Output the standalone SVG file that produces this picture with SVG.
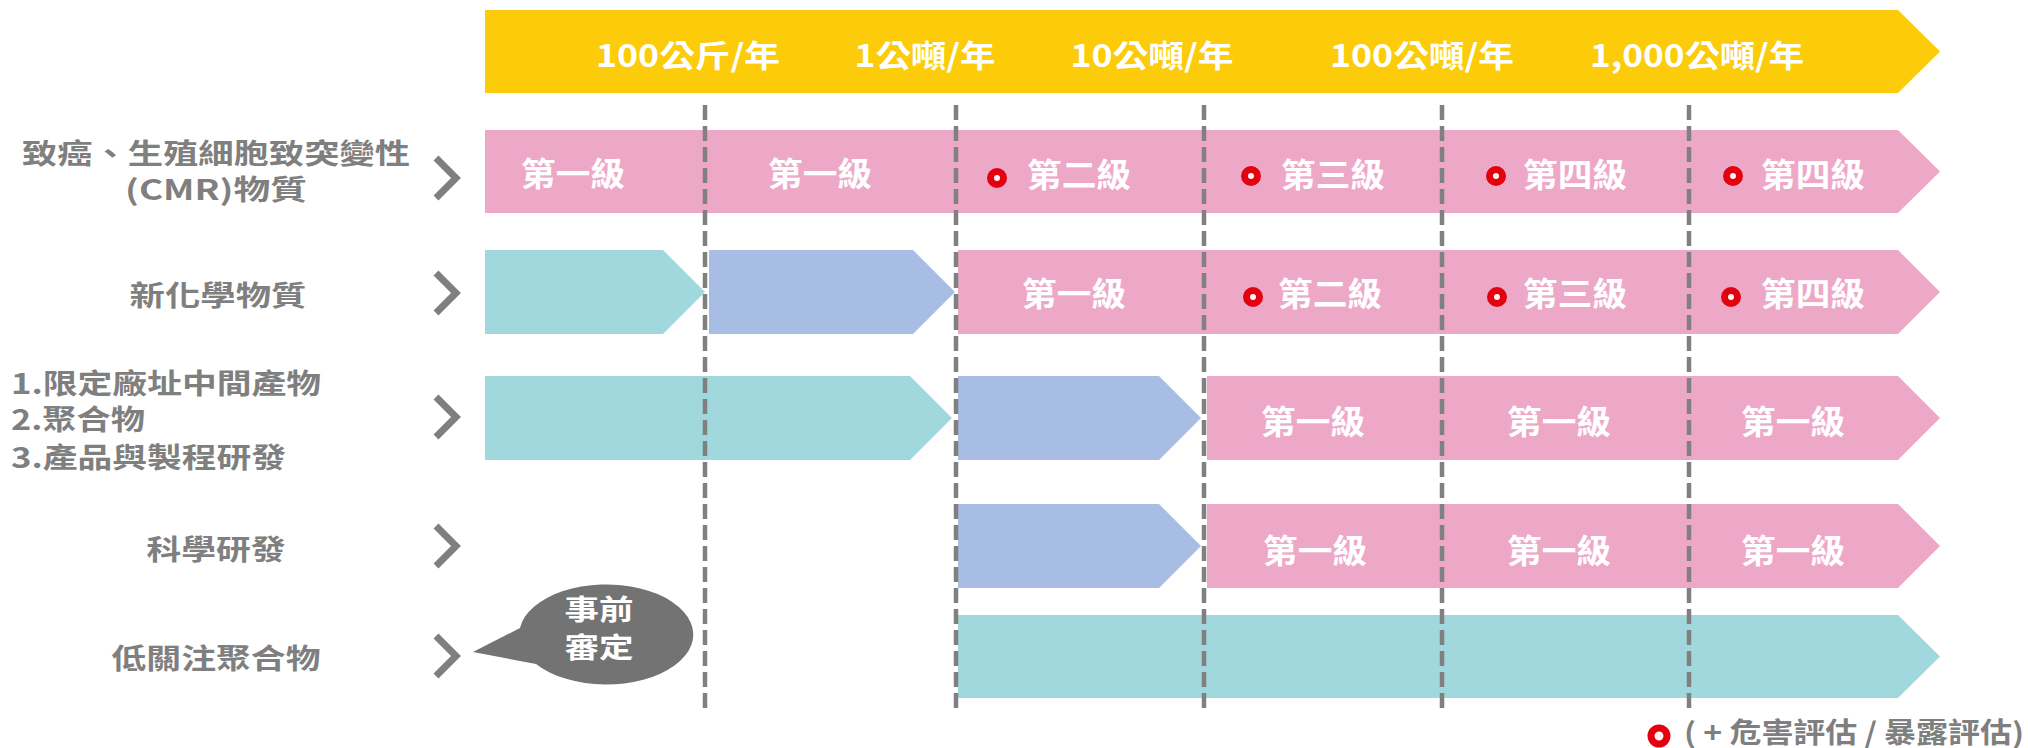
<svg xmlns="http://www.w3.org/2000/svg" width="2028" height="748" viewBox="0 0 2028 748">
<style>
text{font-family:"Noto Sans CJK TC","Noto Sans CJK SC",sans-serif;font-weight:bold;}
.hdr{fill:#ffffff;font-size:31px;text-anchor:middle;dominant-baseline:central;}
.lvl{fill:#ffffff;font-size:33px;dominant-baseline:central;}
.lvlc{fill:#ffffff;font-size:33px;text-anchor:middle;dominant-baseline:central;}
.lab{fill:#7f7f7f;font-size:28px;dominant-baseline:central;}
.labc{fill:#7f7f7f;font-size:28px;text-anchor:middle;dominant-baseline:central;}
.yel{fill:#fccc0a;}
.pink{fill:#eea8c7;}
.teal{fill:#a0d8dd;}
.blue{fill:#a8bde3;}
.grid{stroke:#808080;stroke-width:4.5;stroke-dasharray:15 6;fill:none;}
.chev{stroke:#7f7f7f;stroke-width:7;fill:none;stroke-linejoin:miter;}
.mark{fill:#fff2f2;stroke:#e3000f;stroke-width:7;}
</style>

<g id="header">
  <polygon class="yel" points="485,10 1898,10 1940,51.5 1898,93 485,93"/>
  <text class="hdr" x="688" y="53" textLength="184" lengthAdjust="spacingAndGlyphs">100公斤/年</text>
  <text class="hdr" x="925" y="53" textLength="141" lengthAdjust="spacingAndGlyphs">1公噸/年</text>
  <text class="hdr" x="1152" y="53" textLength="163" lengthAdjust="spacingAndGlyphs">10公噸/年</text>
  <text class="hdr" x="1422" y="53" textLength="184" lengthAdjust="spacingAndGlyphs">100公噸/年</text>
  <text class="hdr" x="1697" y="53" textLength="214" lengthAdjust="spacingAndGlyphs">1,000公噸/年</text>
</g>

<g id="row-cmr">
  <text class="labc" x="216" y="152" textLength="388" lengthAdjust="spacingAndGlyphs">致癌、生殖細胞致突變性</text>
  <text class="labc" x="216" y="188" textLength="182" lengthAdjust="spacingAndGlyphs">(CMR)物質</text>
  <polyline class="chev" points="436,158 456,178 436,198"/>
  <polygon class="pink" points="485,130 1898,130 1940,171.5 1898,213 485,213"/>
  <text class="lvlc" x="573" y="172" textLength="104" lengthAdjust="spacingAndGlyphs">第一級</text>
  <text class="lvlc" x="820" y="172" textLength="104" lengthAdjust="spacingAndGlyphs">第一級</text>
  <circle class="mark" cx="997" cy="178" r="6.5"/>
  <text class="lvl" x="1027" y="173" textLength="104" lengthAdjust="spacingAndGlyphs">第二級</text>
  <circle class="mark" cx="1251" cy="176" r="6.5"/>
  <text class="lvl" x="1281" y="173" textLength="104" lengthAdjust="spacingAndGlyphs">第三級</text>
  <circle class="mark" cx="1496" cy="176" r="6.5"/>
  <text class="lvl" x="1523" y="173" textLength="104" lengthAdjust="spacingAndGlyphs">第四級</text>
  <circle class="mark" cx="1733" cy="176" r="6.5"/>
  <text class="lvl" x="1761" y="173" textLength="104" lengthAdjust="spacingAndGlyphs">第四級</text>
</g>

<g id="row-new">
  <text class="labc" x="218" y="294" textLength="177" lengthAdjust="spacingAndGlyphs">新化學物質</text>
  <polyline class="chev" points="436,273 456,293 436,313"/>
  <polygon class="teal" points="485,250 663,250 705,292 663,334 485,334"/>
  <polygon class="blue" points="709,250 913,250 955,292 913,334 709,334"/>
  <polygon class="pink" points="958,250 1898,250 1940,292 1898,334 958,334"/>
  <text class="lvlc" x="1074" y="292" textLength="104" lengthAdjust="spacingAndGlyphs">第一級</text>
  <circle class="mark" cx="1253" cy="297" r="6.5"/>
  <text class="lvl" x="1278" y="292" textLength="104" lengthAdjust="spacingAndGlyphs">第二級</text>
  <circle class="mark" cx="1497" cy="297" r="6.5"/>
  <text class="lvl" x="1523" y="292" textLength="104" lengthAdjust="spacingAndGlyphs">第三級</text>
  <circle class="mark" cx="1731" cy="297" r="6.5"/>
  <text class="lvl" x="1761" y="292" textLength="104" lengthAdjust="spacingAndGlyphs">第四級</text>
</g>

<g id="row-exempt">
  <text class="lab" x="11" y="382" textLength="310" lengthAdjust="spacingAndGlyphs">1.限定廠址中間產物</text>
  <text class="lab" x="11" y="418" textLength="134" lengthAdjust="spacingAndGlyphs">2.聚合物</text>
  <text class="lab" x="11" y="456" textLength="275" lengthAdjust="spacingAndGlyphs">3.產品與製程研發</text>
  <polyline class="chev" points="436,397 456,417 436,437"/>
  <polygon class="teal" points="485,376 910,376 952,418 910,460 485,460"/>
  <polygon class="blue" points="958,376 1159,376 1201,418 1159,460 958,460"/>
  <polygon class="pink" points="1207,376 1898,376 1940,418 1898,460 1207,460"/>
  <text class="lvlc" x="1313" y="420" textLength="104" lengthAdjust="spacingAndGlyphs">第一級</text>
  <text class="lvlc" x="1559" y="420" textLength="104" lengthAdjust="spacingAndGlyphs">第一級</text>
  <text class="lvlc" x="1793" y="420" textLength="104" lengthAdjust="spacingAndGlyphs">第一級</text>
</g>

<g id="row-research">
  <text class="labc" x="216" y="548" textLength="139" lengthAdjust="spacingAndGlyphs">科學研發</text>
  <polyline class="chev" points="436,526 456,546 436,566"/>
  <polygon class="blue" points="958,504 1159,504 1201,546 1159,588 958,588"/>
  <polygon class="pink" points="1207,504 1898,504 1940,546 1898,588 1207,588"/>
  <text class="lvlc" x="1315" y="549" textLength="104" lengthAdjust="spacingAndGlyphs">第一級</text>
  <text class="lvlc" x="1559" y="549" textLength="104" lengthAdjust="spacingAndGlyphs">第一級</text>
  <text class="lvlc" x="1793" y="549" textLength="104" lengthAdjust="spacingAndGlyphs">第一級</text>
</g>

<g id="row-plc">
  <text class="labc" x="216" y="657" textLength="209" lengthAdjust="spacingAndGlyphs">低關注聚合物</text>
  <polyline class="chev" points="436,636 456,656 436,676"/>
  <polygon class="teal" points="958,615 1898,615 1940,656.5 1898,698 958,698"/>
</g>

<g id="bubble">
  <path d="M473,652 L520,628 A87,50 0 1 1 536,664 Z" fill="#737373"/>
  <text x="599" y="608" fill="#ffffff" font-size="28" text-anchor="middle" dominant-baseline="central" textLength="69" lengthAdjust="spacingAndGlyphs">事前</text>
  <text x="599" y="646" fill="#ffffff" font-size="28" text-anchor="middle" dominant-baseline="central" textLength="69" lengthAdjust="spacingAndGlyphs">審定</text>
</g>

<g id="connectors">
  <line class="grid" x1="705" y1="105" x2="705" y2="713"/>
  <line class="grid" x1="956" y1="105" x2="956" y2="713"/>
  <line class="grid" x1="1204" y1="105" x2="1204" y2="713"/>
  <line class="grid" x1="1442" y1="105" x2="1442" y2="713"/>
  <line class="grid" x1="1689" y1="105" x2="1689" y2="713"/>
</g>

<g id="legend">
  <circle class="mark" cx="1659" cy="736" r="8"/>
  <text class="lab" x="1684" y="731" textLength="340" lengthAdjust="spacingAndGlyphs">( + 危害評估 / 暴露評估)</text>
</g>
</svg>
